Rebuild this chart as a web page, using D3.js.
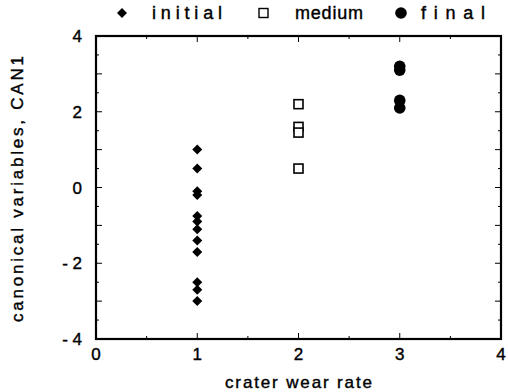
<!DOCTYPE html>
<html>
<head>
<meta charset="utf-8">
<script src="https://cdn.jsdelivr.net/npm/d3@7"></script>
<style>
  body { margin: 0; background: #fff; }
  text { font-family: "Liberation Sans", Arial, sans-serif; fill: #000; stroke: #000; stroke-width: 0.4px; font-variant-ligatures: none; }
</style>
</head>
<body>
<div id="chart"></div>
<script>
// values
var initial = [1.0, 0.5, -0.1, -0.2, -0.75, -0.9, -1.1, -1.4, -1.7, -2.5, -2.7, -3.0];
var medium = [2.2, 1.6, 1.45, 0.5];
var final_ = [3.2, 3.1, 2.3, 2.1];
var xTicks = [0, 1, 2, 3, 4];
var yTicks = [-4, -2, 0, 2, 4];
var yTickLabels = ["- 4", "- 2", "0", "2", "4"];

var width = 508, height = 392;
var svg = d3.select("#chart").append("svg")
  .attr("width", width)
  .attr("height", height);

// plot frame edges
var pLeft = 96, pRight = 501, pTop = 36, pBottom = 339;

var x = d3.scaleLinear().domain([0, 4]).range([pLeft, pRight]);
var y = d3.scaleLinear().domain([-4, 4]).range([pBottom, pTop]);

// inner ticks on all four sides
var minorX = d3.range(0, 4.01, 0.5), minorY = d3.range(-4, 4.01, 0.5);
var tg = svg.append("g").attr("stroke", "#000").attr("stroke-width", 1);
minorX.forEach(function(v) {
  var len = (v % 1 === 0) ? 6 : 3;
  tg.append("line").attr("x1", x(v)).attr("x2", x(v)).attr("y1", pBottom).attr("y2", pBottom - len);
  tg.append("line").attr("x1", x(v)).attr("x2", x(v)).attr("y1", pTop).attr("y2", pTop + len);
});
minorY.forEach(function(v) {
  var len = (v % 1 === 0) ? 6 : 3;
  tg.append("line").attr("x1", pLeft).attr("x2", pLeft + len).attr("y1", y(v)).attr("y2", y(v));
  tg.append("line").attr("x1", pRight).attr("x2", pRight - len).attr("y1", y(v)).attr("y2", y(v));
});

// frame
svg.append("rect")
  .attr("x", pLeft).attr("y", pTop)
  .attr("width", pRight - pLeft).attr("height", pBottom - pTop)
  .attr("fill", "none").attr("stroke", "#000").attr("stroke-width", 2.2);

// tick labels
svg.selectAll(".xl").data(xTicks).enter().append("text")
  .attr("x", function(d) { return x(d); })
  .attr("y", pBottom + 21)
  .attr("text-anchor", "middle")
  .attr("font-size", "17px")
  .text(function(d) { return d; });

svg.selectAll(".yl").data(yTicks).enter().append("text")
  .attr("x", pLeft - 14)
  .attr("y", function(d) { return y(d) + 6; })
  .attr("text-anchor", "end")
  .attr("font-size", "17px")
  .text(function(d, i) { return yTickLabels[i]; });

// axis titles
svg.append("text")
  .attr("x", 225)
  .attr("y", 388)
  .attr("font-size", "17px")
  .attr("textLength", 147)
  .attr("lengthAdjust", "spacing")
  .text("crater wear rate");

svg.append("text")
  .attr("transform", "translate(23,322) rotate(-90)")
  .attr("font-size", "17px")
  .attr("textLength", 266)
  .attr("lengthAdjust", "spacing")
  .text("canonical variables, CAN1");

// points
var diamond = d3.symbol().type(d3.symbolSquare).size(50);
svg.selectAll(".ini").data(initial).enter().append("path")
  .attr("d", diamond)
  .attr("transform", function(d) { return "translate(" + x(1) + "," + y(d) + ") rotate(45)"; })
  .attr("fill", "#000");

svg.selectAll(".med").data(medium).enter().append("rect")
  .attr("x", x(2) - 4.5)
  .attr("y", function(d) { return y(d) - 4.5; })
  .attr("width", 9).attr("height", 9)
  .attr("fill", "#fff").attr("stroke", "#000").attr("stroke-width", 1.6);

svg.selectAll(".fin").data(final_).enter().append("circle")
  .attr("cx", x(3))
  .attr("cy", function(d) { return y(d); })
  .attr("r", 5.8)
  .attr("fill", "#000");

// legend
var lg = svg.append("g").attr("font-size", "18px");
lg.append("path").attr("d", diamond).attr("transform", "translate(122,13) rotate(45)").attr("fill", "#000");
lg.append("text").attr("x", 152).attr("y", 19).attr("textLength", 70).attr("lengthAdjust", "spacing").text("initial");
lg.append("rect").attr("x", 259).attr("y", 8.5).attr("width", 9).attr("height", 9)
  .attr("fill", "#fff").attr("stroke", "#000").attr("stroke-width", 1.4);
lg.append("text").attr("x", 295).attr("y", 19).attr("textLength", 68).attr("lengthAdjust", "spacing").text("medium");
lg.append("circle").attr("cx", 401).attr("cy", 13).attr("r", 5.8).attr("fill", "#000");
lg.append("text").attr("x", 421).attr("y", 19).attr("textLength", 64).attr("lengthAdjust", "spacing").text("final");
</script>
</body>
</html>
